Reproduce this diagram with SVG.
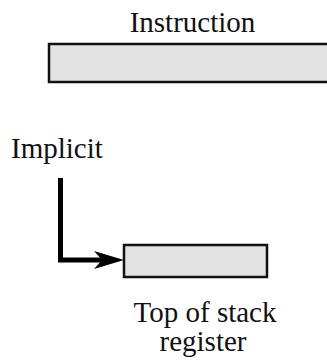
<svg xmlns="http://www.w3.org/2000/svg" width="327" height="364" viewBox="0 0 327 364">
  <style>
    .lbl { font-family: "Liberation Serif", "Times New Roman", serif; font-size: 29px; fill: #111; }
    .reg { fill: #e3e3e3; stroke: #111; stroke-width: 2.5; }
    .wire { fill: none; stroke: #000; stroke-width: 5; }
  </style>
  <rect width="327" height="364" fill="#fff"/>
  <g id="instruction">
    <rect class="reg" x="49" y="44" width="290" height="38"/>
    <text class="lbl" x="192.5" y="32" text-anchor="middle" font-size="30">Instruction</text>
  </g>
  <g id="implicit">
    <text class="lbl" x="11" y="158">Implicit</text>
  </g>
  <g id="stack-top">
    <rect class="reg" x="124" y="245" width="143" height="32" stroke-width="2.2"/>
    <text class="lbl" x="205" y="322" text-anchor="middle">Top of stack</text>
    <text class="lbl" x="203" y="351" text-anchor="middle">register</text>
  </g>
  <g id="connectors">
    <path class="wire" d="M60.5 178 V260 H104"/>
    <path d="M124 260 L94 251 L102 260 L94 269 Z" fill="#000"/>
  </g>
</svg>
